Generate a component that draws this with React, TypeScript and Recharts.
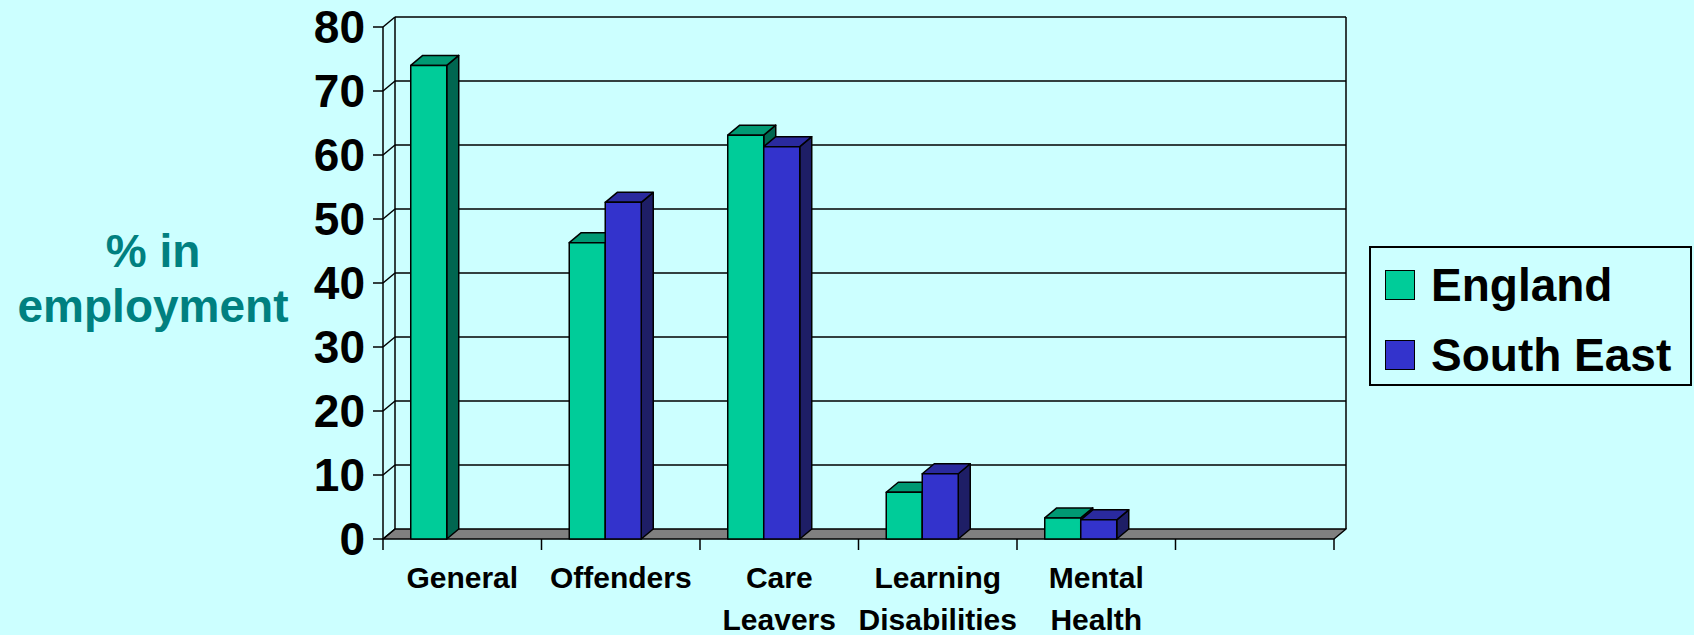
import { BarChart, Bar, XAxis, YAxis, CartesianGrid, Legend } from 'recharts';

const categories = ['General', 'Offenders', 'Care Leavers', 'Learning Disabilities', 'Mental Health', ''];
const england = [74, 46.3, 63.1, 7.3, 3.3, null];
const southEast = [null, 52.6, 61.3, 10.2, 3, null];
const yTicks = [0, 10, 20, 30, 40, 50, 60, 70, 80];

const data = categories.map((name, i) => ({
  name,
  england: england[i],
  southEast: southEast[i],
}));

const W = 1694;
const H = 635;
const PLOT_LEFT = 383;
const PLOT_RIGHT = 1334;
const PLOT_TOP = 27;
const PLOT_BOTTOM = 539;
const DX = 12;
const DY = 10;
const BAR_SHIFT = -16;
const FONT = '"Liberation Sans", Arial, sans-serif';

// 3d column: front face, top and side faces
const make3DBar = (front: string, top: string, side: string) => (props: any) => {
  const { x, y, width, height } = props;
  if (height == null || height <= 0.5) return <g />;
  const bx = x + BAR_SHIFT;
  const topPts = `${bx},${y} ${bx + width},${y} ${bx + width + DX},${y - DY} ${bx + DX},${y - DY}`;
  const sidePts = `${bx + width},${y} ${bx + width + DX},${y - DY} ${bx + width + DX},${y + height - DY} ${bx + width},${y + height}`;
  return (
    <g stroke="#000" strokeWidth={1.5} strokeLinejoin="round">
      <polygon points={sidePts} fill={side} />
      <polygon points={topPts} fill={top} />
      <rect x={bx} y={y} width={width} height={height} fill={front} />
    </g>
  );
};

const gridLine = (p: any) => {
  const { x1, x2, y1 } = p;
  const isFloor = Math.abs(y1 - PLOT_BOTTOM) < 1;
  const isTop = Math.abs(y1 - PLOT_TOP) < 1;
  return (
    <g key={p.key ?? `g-${y1}`} stroke="#000" strokeWidth={1.5}>
      {isFloor ? (
        <polygon
          points={`${x1},${y1} ${x2},${y1} ${x2 + DX},${y1 - DY} ${x1 + DX},${y1 - DY}`}
          fill="#808080"
          strokeLinejoin="round"
        />
      ) : (
        <line x1={x1 + DX} y1={y1 - DY} x2={x2 + DX} y2={y1 - DY} />
      )}
      <line x1={x1} y1={y1} x2={x1 + DX} y2={y1 - DY} />
      {isTop && (
        <>
          <line x1={x1 + DX} y1={y1 - DY} x2={x1 + DX} y2={PLOT_BOTTOM - DY} />
          <line x1={x2 + DX} y1={y1 - DY} x2={x2 + DX} y2={PLOT_BOTTOM - DY} />
        </>
      )}
    </g>
  );
};

const XTick = (props: any) => {
  const { x, payload, index } = props;
  const band = (PLOT_RIGHT - PLOT_LEFT) / categories.length;
  const left = x - band / 2;
  const lines = String(payload.value).split(' ').filter(Boolean);
  return (
    <g>
      <line x1={left} y1={PLOT_BOTTOM} x2={left} y2={PLOT_BOTTOM + 11} stroke="#000" strokeWidth={1.5} />
      {index === categories.length - 1 && (
        <line x1={left + band} y1={PLOT_BOTTOM} x2={left + band} y2={PLOT_BOTTOM + 11} stroke="#000" strokeWidth={1.5} />
      )}
      {lines.map((l, i) => (
        <text
          key={i}
          x={x}
          y={PLOT_BOTTOM + 49 + i * 42}
          textAnchor="middle"
          fill="#000"
          fontSize={30}
          fontWeight={700}
          fontFamily={FONT}
        >
          {l}
        </text>
      ))}
    </g>
  );
};

const YTitle = () => (
  <g fill="#008080" fontSize={46} fontWeight={700} fontFamily={FONT} textAnchor="middle">
    <text x={153} y={267}>% in</text>
    <text x={153} y={322}>employment</text>
  </g>
);

const renderLegend = (props: any) => {
  const { payload } = props;
  return (
    <div
      style={{
        width: 323,
        height: 140,
        border: '2px solid #000',
        boxSizing: 'border-box',
        paddingTop: 2,
        fontFamily: FONT,
      }}
    >
      {(payload || []).map((entry: any) => (
        <div key={entry.value} style={{ display: 'flex', alignItems: 'center', height: 70 }}>
          <span
            style={{
              display: 'inline-block',
              width: 28,
              height: 28,
              marginLeft: 14,
              marginRight: 16,
              background: entry.color,
              border: '1.5px solid #000',
            }}
          />
          <span style={{ fontSize: 46, fontWeight: 700, color: '#000', lineHeight: '70px' }}>{entry.value}</span>
        </div>
      ))}
    </div>
  );
};

export default function App() {
  return (
    <div style={{ position: 'absolute', left: 0, top: 0, width: W, height: H, background: '#CCFFFF' }}>
      <BarChart
        width={W}
        height={H}
        data={data}
        margin={{ top: PLOT_TOP, right: W - PLOT_RIGHT, bottom: 0, left: 0 }}
        barCategoryGap="27.6%"
        barGap={0}
      >
        <CartesianGrid horizontal={gridLine} vertical={false} />
        <XAxis
          dataKey="name"
          interval={0}
          height={H - PLOT_BOTTOM}
          axisLine={false}
          tickLine={false}
          tick={<XTick />}
        />
        <YAxis
          width={PLOT_LEFT}
          domain={[0, 80]}
          ticks={yTicks}
          interval={0}
          tickSize={10}
          tickMargin={8}
          axisLine={{ stroke: '#000', strokeWidth: 1.5 }}
          tickLine={{ stroke: '#000', strokeWidth: 1.5 }}
          tick={{ fill: '#000', fontSize: 46, fontWeight: 700, fontFamily: FONT }}
          label={{ content: <YTitle /> }}
        />
        <Legend
          layout="vertical"
          align="center"
          verticalAlign="middle"
          wrapperStyle={{ left: 1369, top: 246, width: 323, height: 140 }}
          content={renderLegend}
        />
        <Bar
          dataKey="england"
          name="England"
          fill="#00CC99"
          isAnimationActive={false}
          shape={make3DBar('#00CC99', '#009973', '#006650')}
        />
        <Bar
          dataKey="southEast"
          name="South East"
          fill="#3333CC"
          isAnimationActive={false}
          shape={make3DBar('#3333CC', '#2A2A9E', '#1E1E66')}
        />
      </BarChart>
    </div>
  );
}
